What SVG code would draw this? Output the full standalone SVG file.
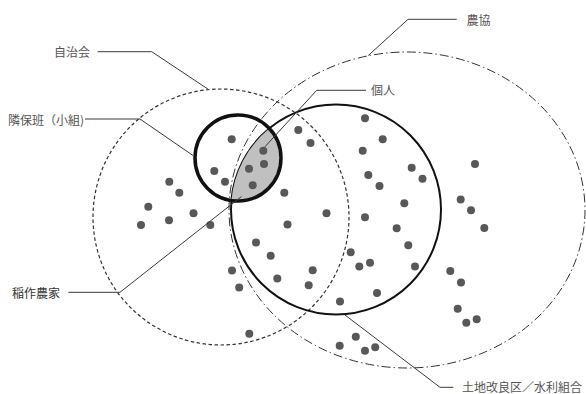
<svg xmlns="http://www.w3.org/2000/svg" width="586" height="394" viewBox="0 0 586 394">
<style>
text{font-family:"Noto Sans CJK JP","Noto Sans CJK SC",sans-serif;font-size:12px;fill:#555}
.lead{fill:none;stroke:#3a3a3a;stroke-width:1}
.dot{fill:#595959}
</style>
<defs>
<filter id="soft" x="-50%" y="-50%" width="200%" height="200%"><feGaussianBlur stdDeviation="0.5"/></filter>
</defs>
<rect width="586" height="394" fill="#fff"/>
<g id="jichikai">
<circle cx="221" cy="217" r="128" fill="none" stroke="#333" stroke-width="1.2" stroke-dasharray="3.5 2.5"/>
</g>
<g id="nokyo">
<ellipse cx="407" cy="210" rx="178" ry="158" fill="none" stroke="#333" stroke-width="1" stroke-dasharray="9 3 1.5 3"/>
</g>
<g id="tochikairyoku">
<circle cx="336" cy="209.5" r="105" fill="none" stroke="#111" stroke-width="2"/>
</g>
<g id="kojin">
<path d="M231.4,200.5 A105,105 0 0 1 269.2,128.5 A43,43 0 0 1 231.4,200.5 Z" fill="#c0c0c0" stroke="none"/>
</g>
<g id="rinpohan">
<circle cx="238" cy="158" r="43" fill="none" stroke="#111" stroke-width="3.5"/>
</g>
<g id="dots" class="dot" filter="url(#soft)">
<circle cx="231.7" cy="139.3" r="4"/>
<circle cx="263.3" cy="150.7" r="4"/>
<circle cx="214.3" cy="171" r="4"/>
<circle cx="249" cy="168.7" r="4"/>
<circle cx="264" cy="164" r="4"/>
<circle cx="225" cy="181.7" r="4"/>
<circle cx="252.7" cy="185.3" r="4"/>
<circle cx="298.3" cy="130" r="4"/>
<circle cx="169.3" cy="181.7" r="4"/>
<circle cx="179.3" cy="192.7" r="4"/>
<circle cx="284.3" cy="192.7" r="4"/>
<circle cx="148.3" cy="206.7" r="4"/>
<circle cx="169" cy="220.3" r="4"/>
<circle cx="193.5" cy="213.3" r="4"/>
<circle cx="141" cy="225" r="4"/>
<circle cx="210.3" cy="225" r="4"/>
<circle cx="287.5" cy="224.5" r="4"/>
<circle cx="310.5" cy="143" r="4"/>
<circle cx="365" cy="118.3" r="4"/>
<circle cx="382.7" cy="139.3" r="4"/>
<circle cx="362.7" cy="150.7" r="4"/>
<circle cx="411.7" cy="167.7" r="4"/>
<circle cx="475" cy="164" r="4"/>
<circle cx="368.3" cy="175" r="4"/>
<circle cx="422.5" cy="178.8" r="4"/>
<circle cx="379.5" cy="186" r="4"/>
<circle cx="460.7" cy="199.5" r="4"/>
<circle cx="404.3" cy="203.3" r="4"/>
<circle cx="471" cy="210.3" r="4"/>
<circle cx="326.5" cy="213.3" r="4"/>
<circle cx="365" cy="217.3" r="4"/>
<circle cx="484.3" cy="228" r="4"/>
<circle cx="396.7" cy="228.3" r="4"/>
<circle cx="408.3" cy="245.3" r="4"/>
<circle cx="450.3" cy="271" r="4"/>
<circle cx="415" cy="266.5" r="4"/>
<circle cx="461" cy="282.5" r="4"/>
<circle cx="377" cy="293" r="4"/>
<circle cx="457.7" cy="308.7" r="4"/>
<circle cx="466.3" cy="322.8" r="4"/>
<circle cx="476.7" cy="319.3" r="4"/>
<circle cx="256" cy="242.5" r="4"/>
<circle cx="270.7" cy="255.8" r="4"/>
<circle cx="350.7" cy="252.3" r="4"/>
<circle cx="370" cy="262.8" r="4"/>
<circle cx="359.3" cy="266.5" r="4"/>
<circle cx="232" cy="270.5" r="4"/>
<circle cx="312.7" cy="270.2" r="4"/>
<circle cx="277.3" cy="278.5" r="4"/>
<circle cx="239.2" cy="287.5" r="4"/>
<circle cx="308.7" cy="285.2" r="4"/>
<circle cx="340" cy="301.5" r="4"/>
<circle cx="249.3" cy="333.7" r="4"/>
<circle cx="355.8" cy="336.7" r="4"/>
<circle cx="339.7" cy="345.7" r="4"/>
<circle cx="365" cy="350.8" r="4"/>
<circle cx="375.2" cy="347.3" r="4"/>
</g>
<g id="connectors">
<polyline class="lead" points="97.7,51.7 151.7,51.7 208.3,89.3"/>
<polyline class="lead" points="456.7,19.3 408,19.3 368.3,55.5"/>
<polyline class="lead" points="366,90.3 316.7,90.3 265,146.7"/>
<polyline class="lead" points="85,119 140,119 193,155.5"/>
<polyline class="lead" points="68.3,292.3 120,292.3 241.5,196.5"/>
<polyline class="lead" points="453.3,387.3 440,387.3 345,315"/>
</g>
<g id="labels">
<text x="54" y="57">自治会</text>
<text x="466.5" y="25">農協</text>
<text x="371" y="95">個人</text>
<text x="8" y="124.5">隣保班（小組)</text>
<text x="12" y="297.5" style="fill:#333">稲作農家</text>
<text x="462" y="392">土地改良区／水利組合</text>
</g>
</svg>
